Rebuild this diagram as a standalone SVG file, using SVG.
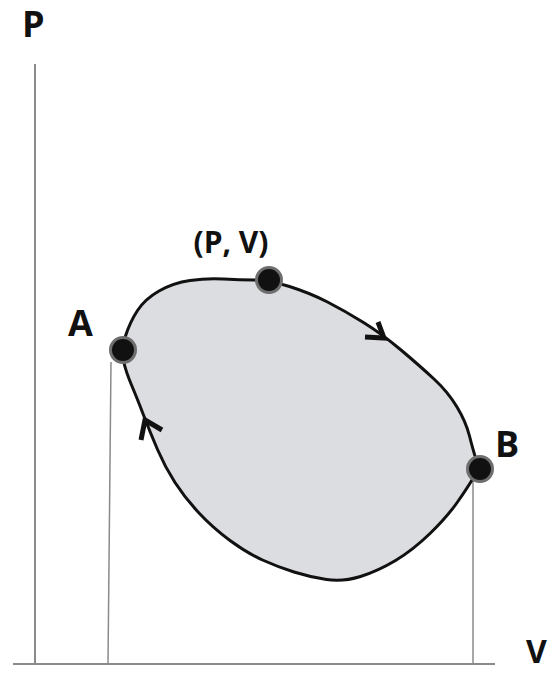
<svg xmlns="http://www.w3.org/2000/svg" width="551" height="673" viewBox="0 0 551 673">
<style>
.axis{stroke:#8a8a8a;stroke-width:2;fill:none}
.drop{stroke:#8a8a8a;stroke-width:1.5;fill:none}
.loop{fill:#dcdde0;stroke:#111;stroke-width:3;stroke-linejoin:round}
.arr{fill:none;stroke:#111;stroke-width:5;stroke-linecap:butt;stroke-linejoin:miter}
.dot{fill:#111;stroke:#6e6e6e;stroke-width:3}
.lbl{font-family:"Open Sans","Liberation Sans",sans-serif;font-weight:700;fill:#111}
</style>
<g id="axes">
<line class="axis" x1="35" y1="64" x2="35" y2="664"/>
<line class="axis" x1="13" y1="664" x2="495" y2="664"/>
<text class="lbl" x="22" y="37" font-size="36">P</text>
<text class="lbl" x="526" y="663" font-size="32">V</text>
</g>
<g id="connectors">
<line class="drop" x1="111" y1="362" x2="108" y2="664"/>
<line class="drop" x1="473" y1="480" x2="473" y2="664"/>
</g>
<g id="cycle">
<path class="loop" d="M125.5,336 Q130,322 137.5,310.5 Q145,299 159,291 Q173,283 190,280.5 Q207,278 223.5,279 Q240,280 254.5,280 Q269,280 289.5,286.5 Q310,293 327.5,302 Q345,311 363.5,322.5 Q382,334 401,350 Q420,366 434,379 Q448,392 457,407 Q466,422 469.5,436 Q473,450 476,459 Q479,468 473.5,477.5 Q468,487 457.5,502 Q447,517 430,533.5 Q413,550 395.5,560.5 Q378,571 360.5,576.5 Q343,582 326.5,579.5 Q310,577 294,572 Q278,567 262.5,560 Q247,553 230,540.5 Q213,528 199,513 Q185,498 175,482.5 Q165,467 157.5,449.5 Q150,432 143.5,415 Q137,398 131.5,385 Q126,372 123.5,361 Q121,350 125.5,336 Z"/>
<polyline class="arr" points="365,337 384,338 378,322"/>
<polyline class="arr" points="141,440 145,420 162,430"/>
</g>
<g id="A">
<circle class="dot" cx="123" cy="350" r="12.5"/>
<text class="lbl" x="68" y="336" font-size="36">A</text>
</g>
<g id="PV">
<circle class="dot" cx="269" cy="280" r="12.5"/>
<text class="lbl" x="231" y="253" font-size="30" text-anchor="middle">(P, V)</text>
</g>
<g id="B">
<circle class="dot" cx="480" cy="469" r="12.5"/>
<text class="lbl" x="495" y="457" font-size="36">B</text>
</g>
</svg>
